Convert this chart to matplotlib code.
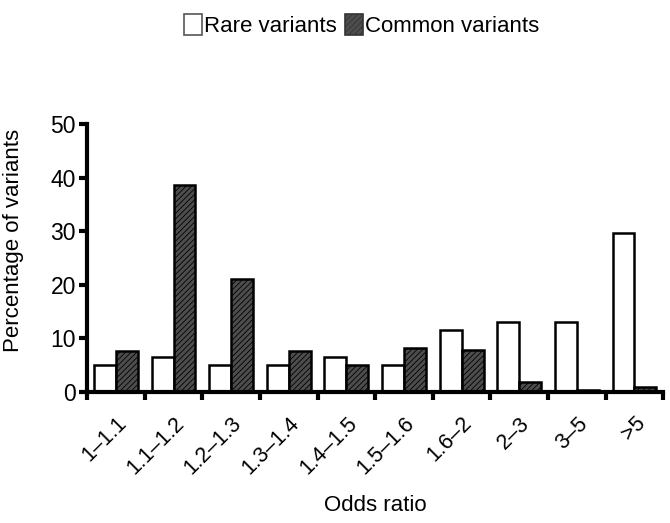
import matplotlib.pyplot as plt
import numpy as np
from matplotlib.patches import Patch

plt.rcParams['font.family'] = ['Liberation Sans', 'DejaVu Sans']
plt.rcParams['hatch.color'] = '#2a2a2a'
plt.rcParams['hatch.linewidth'] = 0.6

# data
categories = ['1\u20131.1', '1.1\u20131.2', '1.2\u20131.3', '1.3\u20131.4', '1.4\u20131.5',
              '1.5\u20131.6', '1.6\u20132', '2\u20133', '3\u20135', '>5']
rare = [5.0, 6.5, 5.0, 5.0, 6.5, 5.0, 11.5, 13.1, 13.1, 29.6]
common = [7.7, 38.7, 21.1, 7.7, 5.0, 8.2, 7.8, 1.9, 0.3, 1.0]

fig = plt.figure(figsize=(6.7, 5.23), dpi=100)
ax = fig.add_axes([0.13, 0.2505, 0.86, 0.5125])

x = np.arange(len(categories))
w = 0.38
ax.bar(x - w / 2, rare, width=w, facecolor='white', edgecolor='black', linewidth=1.8)
ax.bar(x + w / 2, common, width=w, facecolor='#4d4d4d', edgecolor='black',
       linewidth=1.8, hatch='//////')

ax.set_xlim(-0.5, len(categories) - 0.5)
ax.set_ylim(0, 50)
ax.set_yticks([0, 10, 20, 30, 40, 50])

# ticks at category boundaries, labels at centres
ax.set_xticks(np.arange(len(categories) + 1) - 0.5)
ax.set_xticklabels([])
ax.set_xticks(x, minor=True)
ax.set_xticklabels(categories, minor=True, rotation=45, ha='right',
                   rotation_mode='anchor', fontsize=15.5)
ax.tick_params(axis='x', which='minor', length=0, pad=15)
ax.tick_params(axis='x', which='major', length=6, width=3, direction='out')
ax.tick_params(axis='y', length=6, width=3, direction='out', labelsize=16.5, pad=2)

for s in ['top', 'right']:
    ax.spines[s].set_visible(False)
for s in ['left', 'bottom']:
    ax.spines[s].set_linewidth(3)

ax.set_ylabel('Percentage of variants', fontsize=16)
ax.yaxis.set_label_coords(-0.11, 0.565)
ax.set_xlabel('Odds ratio', fontsize=16, labelpad=12)

handles = [Patch(facecolor='white', edgecolor='#555555', linewidth=1.2),
           Patch(facecolor='#4d4d4d', edgecolor='#333333', linewidth=1.2, hatch='//////')]
fig.legend(handles, ['Rare variants', 'Common variants'], loc='upper center',
           bbox_to_anchor=(0.54, 1.012), ncol=2, frameon=False, fontsize=16,
           handlelength=0.8, handleheight=1.1, handletextpad=0.1, columnspacing=0.4)

fig.savefig('out.png', dpi=100)
